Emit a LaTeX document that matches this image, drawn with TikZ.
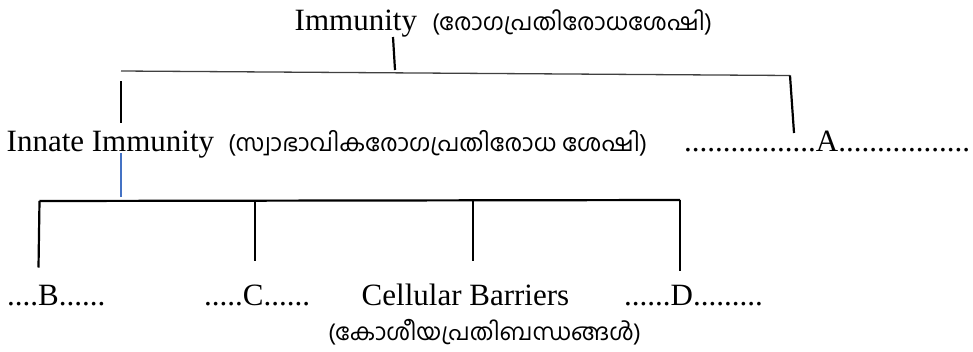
\documentclass[tikz,border=0pt]{standalone}
\usepackage{fontspec}
\setmainfont{Liberation Serif}
\newfontfamily\mlfont[Script=Malayalam]{Hind Kochi}
\definecolor{stemblue}{RGB}{68,114,196}

% Set a Malayalam gloss at the size that makes it #1 pt wide
\newlength\mlwidth
\newcommand\mlfit[2]{%
  \settowidth\mlwidth{\mlfont\fontsize{10pt}{12pt}\selectfont #2}%
  \pgfmathsetmacro\mlsize{10*#1/\mlwidth}%
  {\mlfont\fontsize{\mlsize pt}{\mlsize pt}\selectfont #2}}

\begin{document}
\begin{tikzpicture}[x=1pt,y=-1pt,
  lbl/.style={anchor=base west, inner sep=0pt, font=\fontsize{31pt}{36pt}\selectfont},
  gloss/.style={anchor=base west, inner sep=0pt},
  stem/.style={line width=2.2pt, black},
  thinbar/.style={line width=1.3pt, black!75},
  bluestem/.style={line width=2pt, stemblue}]
\useasboundingbox (0,0) rectangle (973,351);

% ---- labels ----
\node[lbl]   (title)    at (294.5,30)  {Immunity};
\node[gloss] (titleml)  at (432,30)    {\mlfit{280}{(രോഗപ്രതിരോധശേഷി)}};
\node[lbl]   (innate)   at (6.5,151)   {Innate Immunity};
\node[gloss] (innateml) at (228,151)   {\mlfit{419}{(സ്വാഭാവികരോഗപ്രതിരോധ ശേഷി)}};
\node[lbl]   (A)        at (684,151)   {.................A.................};
\node[lbl]   (B)        at (7,305)     {....B......};
\node[lbl]   (C)        at (204,305)   {.....C......};
\node[lbl]   (cell)     at (361.5,305) {Cellular Barriers};
\node[gloss] (cellml)   at (328,340)   {\mlfit{313}{(കോശീയപ്രതിബന്ധങ്ങൾ)}};
\node[lbl]   (D)        at (624,305)   {......D.........};

% ---- connector end points ----
\coordinate (stubT)  at (393,37);
\coordinate (stubB)  at (395,70);
\coordinate (topL)   at (121,71);
\coordinate (topR)   at (790,75.5);
\coordinate (innT)   at (121,81);
\coordinate (innB)   at (121,123);
\coordinate (aB)     at (794,133);
\coordinate (blueT)  at (121,153);
\coordinate (blueB)  at (121,197);
\coordinate (lowL)   at (39.5,201);
\coordinate (lowR)   at (680,200);
\coordinate (bB)     at (38.5,267.5);
\coordinate (cT)     at (255,201);
\coordinate (cB)     at (255,261);
\coordinate (cellT)  at (473,200);
\coordinate (cellB)  at (473,261);
\coordinate (dB)     at (680,271);

% ---- tree lines ----
\draw[stem] (stubT) -- (stubB);
\draw[thinbar] (topL) -- (topR);
\draw[stem] (innT) -- (innB);
\draw[stem] (topR) -- (aB);
\draw[bluestem] (blueT) -- (blueB);
\draw[stem] (lowL) -- (lowR);
\draw[stem] (lowL) -- (bB);
\draw[stem] (cT) -- (cB);
\draw[stem] (cellT) -- (cellB);
\draw[stem] (lowR) -- (dB);
\end{tikzpicture}
\end{document}
